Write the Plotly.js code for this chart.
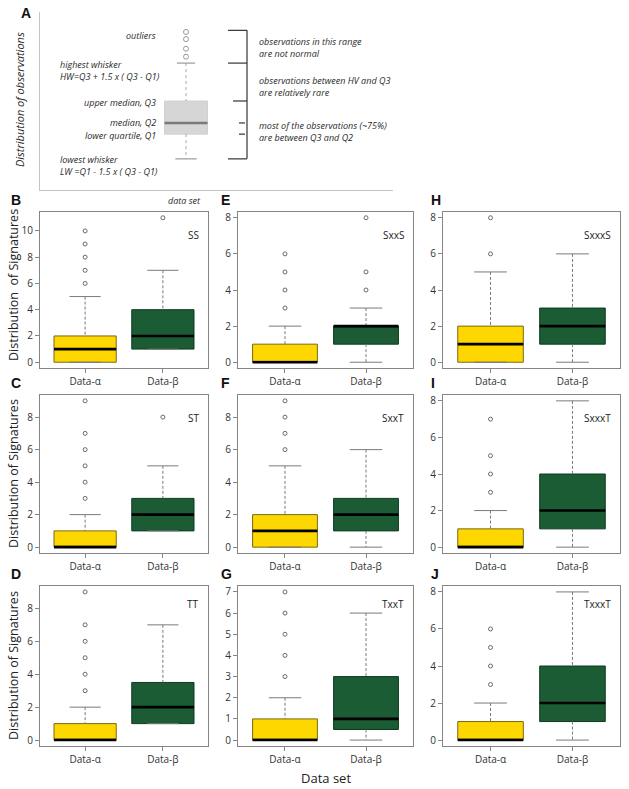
<!DOCTYPE html>
<html>
<head>
<meta charset="utf-8">
<script src="https://cdn.plot.ly/plotly-3.0.1.min.js"></script>
<style>
  html, body { margin: 0; padding: 0; background: #fff; }
  #chart { width: 629px; height: 789px; }
</style>
</head>
<body>
<div id="chart"></div>
<script>
// ---- data ----
const GROUPS = ["Data-\u03b1", "Data-\u03b2"];
const PANELS = ["B", "C", "D", "E", "F", "G", "H", "I", "J"];
const MOTIFS = ["SS", "ST", "TT", "SxxS", "SxxT", "TxxT", "SxxxS", "SxxxT", "TxxxT"];
const Q1 = [[0, 1], [0, 1], [0, 1], [0, 1], [0, 1], [0, 0.5], [0, 1], [0, 1], [0, 1]];
const MEDIAN = [[1, 2], [0, 2], [0, 2], [0, 2], [1, 2], [0, 1], [1, 2], [0, 2], [0, 2]];
const Q3 = [[2, 4], [1, 3], [1, 3.5], [1, 2], [2, 3], [1, 3], [2, 3], [1, 4], [1, 4]];
const LOWER = [[0, 1], [0, 1], [0, 1], [0, 0], [0, 0], [0, 0], [0, 0], [0, 0], [0, 0]];
const UPPER = [[5, 7], [2, 5], [2, 7], [2, 3], [5, 6], [2, 6], [5, 6], [2, 8], [2, 8]];
const OUTLIERS = [
  [[6, 7, 8, 9, 10], [11]],
  [[3, 4, 5, 6, 7, 9], [8]],
  [[3, 4, 5, 6, 7, 9], []],
  [[3, 4, 5, 6], [4, 5, 8]],
  [[6, 7, 8, 9], []],
  [[3, 4, 5, 6, 7], []],
  [[6, 8], []],
  [[3, 4, 5, 7], []],
  [[3, 4, 5, 6], []],
];
const Y_DTICK = [2, 2, 2, 2, 2, 1, 2, 2, 2];

// schematic box of panel A
const A_LOWER = 0;
const A_Q1 = 3.1;
const A_MEDIAN = 4.5;
const A_Q3 = 7.25;
const A_UPPER = 12;
const A_OUTLIERS = [12.8, 13.8, 15, 15.9];

// ---- styling ----
const W = 629, H = 789;
const FONT = "'Open Sans', 'DejaVu Sans', sans-serif";
const FILLS = ["#FFD700", "#1B5C34"];
const EDGES = ["#7a6812", "#0e3a1f"];
const FRAME = "#858585";
const WHISKER = "#7a7a7a";
const COLS = [[40, 208], [238, 413], [443, 620]];
const ROWS = [[212, 368], [395, 553], [586, 746]];
const BOX_W = 0.8;

const px = (x) => x / W;
const py = (y) => 1 - y / H;

const traces = [];
const layout = {
  width: W, height: H,
  margin: { l: 0, r: 0, t: 0, b: 0 },
  paper_bgcolor: "#fff", plot_bgcolor: "#fff",
  showlegend: false,
  font: { family: FONT, color: "#333", size: 10 },
  annotations: [],
  shapes: [],
};

PANELS.forEach((label, p) => {
  const col = Math.floor(p / 3), row = p % 3;
  const n = p + 1;
  const xa = "x" + n, ya = "y" + n;

  const all = [];
  for (let g = 0; g < 2; g++) {
    all.push(LOWER[p][g], UPPER[p][g], Q1[p][g], Q3[p][g], ...OUTLIERS[p][g]);
  }
  const lo = Math.min(...all), hi = Math.max(...all);
  const pad = 0.04 * (hi - lo);

  layout["xaxis" + n] = {
    domain: [px(COLS[col][0]), px(COLS[col][1])],
    anchor: ya,
    range: [0.42, 2.58],
    tickvals: [1, 2], ticktext: GROUPS,
    ticks: "outside", ticklen: 4, tickcolor: FRAME,
    tickfont: { size: 10, color: "#333" },
    showline: true, mirror: true, linecolor: FRAME, linewidth: 1,
    showgrid: false, zeroline: false, fixedrange: true,
  };
  layout["yaxis" + n] = {
    domain: [py(ROWS[row][1]), py(ROWS[row][0])],
    anchor: xa,
    range: [lo - pad, hi + pad],
    dtick: Y_DTICK[p], tick0: 0,
    ticks: "outside", ticklen: 4, tickcolor: FRAME,
    tickfont: { size: 10, color: "#333" },
    showline: true, mirror: true, linecolor: FRAME, linewidth: 1,
    showgrid: false, zeroline: false, fixedrange: true,
  };

  for (let g = 0; g < 2; g++) {
    const c = g + 1;
    // dashed whiskers
    traces.push({
      type: "scatter", mode: "lines", xaxis: xa, yaxis: ya, hoverinfo: "skip",
      x: [c, c, null, c, c],
      y: [UPPER[p][g], Q3[p][g], null, Q1[p][g], LOWER[p][g]],
      line: { color: WHISKER, width: 1, dash: "3px,2px" },
    });
    // staples
    traces.push({
      type: "scatter", mode: "lines", xaxis: xa, yaxis: ya, hoverinfo: "skip",
      x: [c - BOX_W / 4, c + BOX_W / 4, null, c - BOX_W / 4, c + BOX_W / 4],
      y: [UPPER[p][g], UPPER[p][g], null, LOWER[p][g], LOWER[p][g]],
      line: { color: WHISKER, width: 1 },
    });
    // box
    traces.push({
      type: "box", xaxis: xa, yaxis: ya, hoverinfo: "skip",
      x: [c],
      q1: [Q1[p][g]], median: [MEDIAN[p][g]], q3: [Q3[p][g]],
      lowerfence: [Q1[p][g]], upperfence: [Q3[p][g]],
      width: BOX_W, whiskerwidth: 0, boxpoints: false,
      fillcolor: FILLS[g], line: { color: EDGES[g], width: 1 },
    });
    // heavy median
    traces.push({
      type: "scatter", mode: "lines", xaxis: xa, yaxis: ya, hoverinfo: "skip",
      x: [c - BOX_W / 2, c + BOX_W / 2],
      y: [MEDIAN[p][g], MEDIAN[p][g]],
      line: { color: "#000", width: 2.6 },
    });
    // outliers
    traces.push({
      type: "scatter", mode: "markers", xaxis: xa, yaxis: ya, hoverinfo: "skip",
      x: OUTLIERS[p][g].map(() => c),
      y: OUTLIERS[p][g],
      marker: { symbol: "circle-open", size: 4, color: "#6a6a6a", line: { width: 1 } },
    });
  }

  // panel letter
  layout.annotations.push({
    xref: "paper", yref: "paper",
    x: px(col === 0 ? 9 : col === 1 ? 219 : 429), y: py(ROWS[row][0] - 12),
    xanchor: "left", yanchor: "middle", showarrow: false,
    text: "<b>" + label + "</b>",
    font: { family: "'Liberation Sans', Arial, sans-serif", size: 14, color: "#111" },
  });
  // motif tag
  layout.annotations.push({
    xref: xa + " domain", yref: ya + " domain",
    x: 1, y: row === 2 ? 0.89 : 0.855, xshift: -7,
    xanchor: "right", yanchor: "middle", showarrow: false,
    text: MOTIFS[p], font: { size: 10, color: "#222" },
  });
  if (col === 0) {
    layout.annotations.push({
      xref: "paper", yref: "paper",
      x: px(13), y: py((ROWS[row][0] + ROWS[row][1]) / 2 - (row === 0 ? 5 : 0)),
      xanchor: "center", yanchor: "middle", showarrow: false, textangle: -90,
      text: row === 0 ? "Distribution&nbsp; of Signatures" : "Distribution of Signatures",
      font: { size: 12.5, color: "#222" },
    });
  }
});

layout.annotations.push({
  xref: "paper", yref: "paper", x: px(326), y: py(778),
  xanchor: "center", yanchor: "middle", showarrow: false,
  text: "Data set", font: { size: 13, color: "#222" },
});

// ---- panel A: schematic ----
const AX = "x10", AY = "y10";
const A_PX_UNIT = 43 / BOX_W;
layout.xaxis10 = {
  domain: [px(40), px(393)], anchor: AY,
  range: [1 - 146 / A_PX_UNIT, 1 + 207 / A_PX_UNIT],
  showline: true, linecolor: "#c4c4c4", linewidth: 1,
  showticklabels: false, ticks: "", showgrid: false, zeroline: false, fixedrange: true,
};
layout.yaxis10 = {
  domain: [py(190), py(12)], anchor: AX,
  range: [-3.9, 18.4],
  showline: true, linecolor: "#c4c4c4", linewidth: 1,
  showticklabels: false, ticks: "", showgrid: false, zeroline: false, fixedrange: true,
};
traces.push({
  type: "scatter", mode: "lines", xaxis: AX, yaxis: AY, hoverinfo: "skip",
  x: [1, 1, null, 1, 1], y: [A_UPPER, A_Q3, null, A_Q1, A_LOWER],
  line: { color: "#a8a8a8", width: 1, dash: "3px,3px" },
});
traces.push({
  type: "scatter", mode: "lines", xaxis: AX, yaxis: AY, hoverinfo: "skip",
  x: [1 - 0.17, 1 + 0.17, null, 1 - 0.2, 1 + 0.2],
  y: [A_UPPER, A_UPPER, null, A_LOWER, A_LOWER],
  line: { color: "#9a9a9a", width: 1.2 },
});
traces.push({
  type: "box", xaxis: AX, yaxis: AY, hoverinfo: "skip",
  x: [1], q1: [A_Q1], median: [A_MEDIAN], q3: [A_Q3],
  lowerfence: [A_Q1], upperfence: [A_Q3],
  width: BOX_W, whiskerwidth: 0, boxpoints: false,
  fillcolor: "#d6d6d6", line: { color: "#d0d0d0", width: 1 },
});
traces.push({
  type: "scatter", mode: "lines", xaxis: AX, yaxis: AY, hoverinfo: "skip",
  x: [1 - BOX_W / 2, 1 + BOX_W / 2], y: [A_MEDIAN, A_MEDIAN],
  line: { color: "#7a7a7a", width: 2.6 },
});
traces.push({
  type: "scatter", mode: "markers", xaxis: AX, yaxis: AY, hoverinfo: "skip",
  x: A_OUTLIERS.map(() => 1), y: A_OUTLIERS,
  marker: { symbol: "circle-open", size: 5, color: "#9a9a9a", line: { width: 1 } },
});

// bracket on the right of the schematic
const BR = "#333";
const bx = px(247);
const bracketLevels = [
  [A_OUTLIERS[A_OUTLIERS.length - 1] + 0.2, 228],
  [A_UPPER, 228],
  [A_Q3, 233],
  [A_LOWER, 228],
];
layout.shapes.push({
  type: "line", xref: "paper", yref: AY, x0: bx, x1: bx,
  y0: A_LOWER, y1: bracketLevels[0][0], line: { color: BR, width: 1.2 },
});
bracketLevels.forEach(([lv, left]) => {
  layout.shapes.push({
    type: "line", xref: "paper", yref: AY, x0: px(left), x1: bx, y0: lv, y1: lv,
    line: { color: BR, width: 1.2 },
  });
});
[A_MEDIAN, A_Q1].forEach((lv) => {
  layout.shapes.push({
    type: "line", xref: "paper", yref: AY, x0: px(239), x1: px(245), y0: lv, y1: lv,
    line: { color: BR, width: 1.2 },
  });
});

const A_TEXT = [
  ["outliers", 158, 35, "right"],
  ["highest whisker<br>HW=Q3 + 1.5 x ( Q3 - Q1)", 58, 70, "left"],
  ["upper median, Q3", 158, 102, "right"],
  ["median, Q2", 158, 122, "right"],
  ["lower quartile, Q1", 158, 135, "right"],
  ["lowest whisker<br>LW =Q1 - 1.5 x ( Q3 - Q1)", 58, 166, "left"],
  ["observations in this range<br>are not normal", 257, 47.5, "left"],
  ["observations between HV and Q3<br>are relatively rare", 257, 87, "left"],
  ["most of the observations (~75%)<br>are between Q3 and Q2", 257, 131, "left"],
  ["data set", 184, 200, "center"],
];
A_TEXT.forEach(([t, x, y, anchor]) => {
  layout.annotations.push({
    xref: "paper", yref: "paper", x: px(x), y: py(y),
    xanchor: anchor, yanchor: "middle", align: "left", showarrow: false,
    text: "<i>" + t + "</i>", font: { size: 9, color: "#2a2a2a" },
  });
});
layout.annotations.push({
  xref: "paper", yref: "paper", x: px(19), y: py(100),
  xanchor: "center", yanchor: "middle", showarrow: false, textangle: -90,
  text: "<i>Distribution of observations</i>", font: { size: 11, color: "#2a2a2a" },
});
layout.annotations.push({
  xref: "paper", yref: "paper", x: px(19), y: py(13),
  xanchor: "left", yanchor: "middle", showarrow: false,
  text: "<b>A</b>",
  font: { family: "'Liberation Sans', Arial, sans-serif", size: 14, color: "#111" },
});

Plotly.newPlot("chart", traces, layout, { staticPlot: true, displayModeBar: false });
</script>
</body>
</html>
